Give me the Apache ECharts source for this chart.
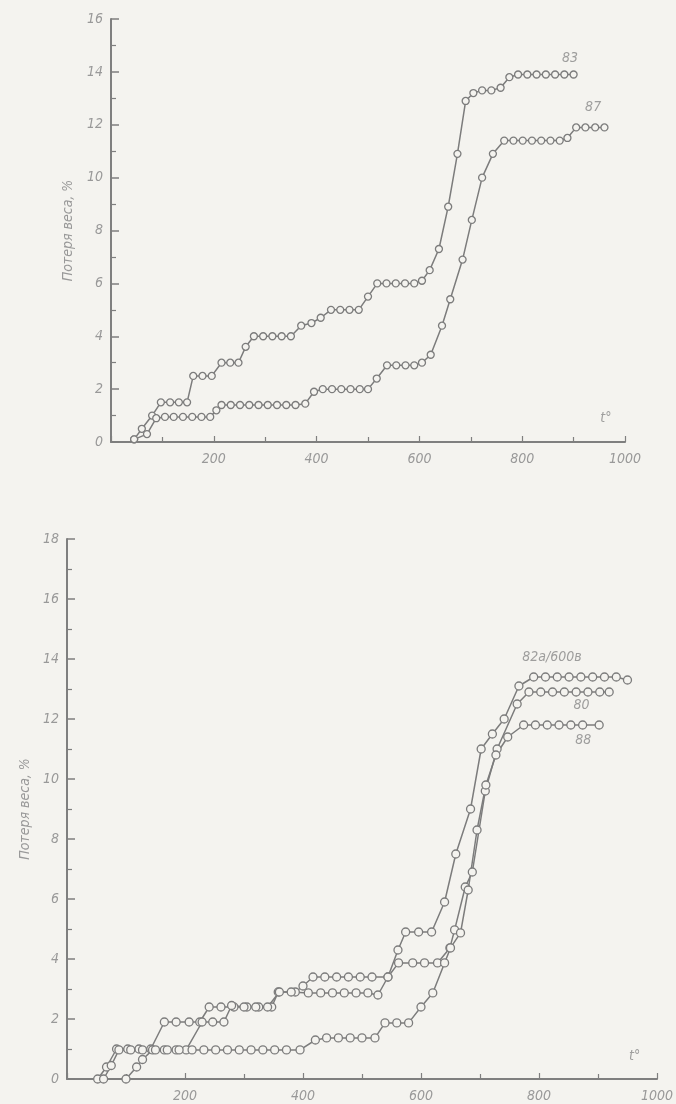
<!DOCTYPE html>
<html>
<head>
<meta charset="utf-8">
<script src="https://cdn.jsdelivr.net/npm/echarts@6/dist/echarts.min.js"></script>
<style>
html,body{margin:0;padding:0;background:#f4f3ef;}
#c{width:676px;height:1104px;}
</style>
</head>
<body>
<div id="c"></div>
<script>
// ---- Data (x = t°, y = weight loss %) ----
const yName = 'Потеря веса, %';
const xTickLabelsTop = ['200','400','600','800','1000'];
const series83 = [[45,0.1],[60,0.5],[80,1.0],[97,1.5],[115,1.5],[132,1.5],[148,1.5],[160,2.5],[178,2.5],[196,2.5],[215,3.0],[232,3.0],[248,3.0],[262,3.6],[278,4.0],[296,4.0],[314,4.0],[332,4.0],[350,4.0],[370,4.4],[390,4.5],[408,4.7],[428,5.0],[446,5.0],[464,5.0],[482,5.0],[500,5.5],[518,6.0],[536,6.0],[554,6.0],[572,6.0],[590,6.0],[605,6.1],[620,6.5],[638,7.3],[656,8.9],[674,10.9],[690,12.9],[705,13.2],[722,13.3],[740,13.3],[758,13.4],[775,13.8],[792,13.9],[810,13.9],[828,13.9],[846,13.9],[864,13.9],[882,13.9],[900,13.9]];
const series87 = [[45,0.1],[70,0.3],[88,0.9],[105,0.95],[122,0.95],[140,0.95],[158,0.95],[176,0.95],[193,0.95],[205,1.2],[215,1.4],[233,1.4],[251,1.4],[269,1.4],[287,1.4],[305,1.4],[323,1.4],[341,1.4],[359,1.4],[378,1.45],[395,1.9],[412,2.0],[430,2.0],[448,2.0],[466,2.0],[484,2.0],[500,2.0],[517,2.4],[537,2.9],[555,2.9],[573,2.9],[590,2.9],[605,3.0],[622,3.3],[644,4.4],[660,5.4],[684,6.9],[702,8.4],[722,10.0],[743,10.9],[765,11.4],[783,11.4],[801,11.4],[819,11.4],[837,11.4],[855,11.4],[873,11.4],[888,11.5],[905,11.9],[923,11.9],[942,11.9],[960,11.9]];

const series82a = [[52,0],[67,0.4],[84,1.0],[103,1.0],[122,1.0],[142,1.0],[165,1.9],[185,1.9],[207,1.9],[225,1.9],[241,2.4],[261,2.4],[283,2.4],[305,2.4],[325,2.4],[347,2.4],[358,2.9],[387,2.9],[400,3.1],[417,3.4],[437,3.4],[457,3.4],[477,3.4],[497,3.4],[517,3.4],[544,3.4],[561,4.3],[574,4.9],[596,4.9],[618,4.9],[640,5.9],[659,7.5],[684,9.0],[702,11.0],[721,11.5],[741,12.0],[766,13.1],[791,13.4],[811,13.4],[831,13.4],[851,13.4],[871,13.4],[891,13.4],[911,13.4],[931,13.4],[950,13.3]];
const series80 = [[100,0],[118,0.4],[128,0.65],[145,0.97],[165,0.97],[185,0.97],[202,0.97],[229,1.9],[247,1.9],[266,1.9],[279,2.45],[300,2.4],[320,2.4],[340,2.4],[360,2.9],[380,2.9],[409,2.87],[430,2.87],[450,2.87],[470,2.87],[490,2.87],[510,2.87],[527,2.8],[544,3.4],[562,3.87],[586,3.87],[606,3.87],[628,3.87],[649,4.37],[657,4.97],[675,6.4],[687,6.9],[709,9.6],[729,11.0],[763,12.5],[783,12.9],[803,12.9],[823,12.9],[843,12.9],[863,12.9],[883,12.9],[903,12.9],[919,12.9]];
const series88 = [[62,0],[75,0.45],[88,0.97],[108,0.97],[128,0.97],[150,0.97],[170,0.97],[190,0.97],[212,0.97],[232,0.97],[252,0.97],[272,0.97],[292,0.97],[312,0.97],[332,0.97],[352,0.97],[372,0.97],[395,0.97],[421,1.3],[440,1.37],[460,1.37],[480,1.37],[500,1.37],[522,1.37],[539,1.87],[559,1.87],[579,1.87],[600,2.4],[620,2.87],[640,3.87],[650,4.37],[667,4.87],[680,6.3],[695,8.3],[710,9.8],[727,10.8],[747,11.4],[774,11.8],[794,11.8],[814,11.8],[834,11.8],[854,11.8],[874,11.8],[902,11.8]];

// annotation anchors in data units: [x, y, text]
const notesTop = [[893,14.5,'83'],[938,12.65,'87'],[963,0.9,'t°']];
const notesBottom = [[822,14.05,'82а/600в'],[872,12.45,'80'],[875,11.3,'88'],[962,0.75,'t°']];

// ---- Styling ----
const FONT = "'DejaVu Sans Condensed','Liberation Sans Narrow','DejaVu Sans',sans-serif";
const AX = '#7f7f7f';
const TXT = '#999999';
const LINE = '#7c7c7c';

function yAxis(gi, max, gap) {
  return {
    type:'value', gridIndex:gi, min:0, max:max, interval:2,
    name:yName, nameLocation:'middle', nameGap:gap, nameRotate:90,
    nameTextStyle:{color:TXT, fontFamily:FONT, fontStyle:'italic', fontSize:14},
    axisLine:{show:true, lineStyle:{color:AX, width:2}},
    axisTick:{show:true, inside:true, length:8, lineStyle:{color:AX, width:1.5}},
    minorTick:{show:true, splitNumber:2, length:5, lineStyle:{color:AX, width:1.2}},
    axisLabel:{color:TXT, fontFamily:FONT, fontStyle:'italic', fontSize:14, margin:8},
    splitLine:{show:false}
  };
}
function xAxis(gi) {
  return {
    type:'value', gridIndex:gi, min:0, max:1000, interval:200,
    axisLine:{show:true, onZero:false, lineStyle:{color:AX, width:2}},
    axisTick:{show:true, inside:true, length:6, lineStyle:{color:AX, width:1.2}},
    minorTick:{show:true, splitNumber:2, length:5, lineStyle:{color:AX, width:1.2}},
    axisLabel:{color:TXT, fontFamily:FONT, fontStyle:'italic', fontSize:14, margin:10,
      formatter:function(v){ const s=String(v); return xTickLabelsTop.indexOf(s)>=0 ? s : ''; }},
    splitLine:{show:false}
  };
}
function lineSeries(data, gi, size) {
  return {
    type:'line', xAxisIndex:gi, yAxisIndex:gi, data:data,
    symbol:'circle', symbolSize:size, showAllSymbol:true,
    lineStyle:{color:LINE, width:1.5},
    itemStyle:{color:'#f4f3ef', borderColor:LINE, borderWidth:1.3},
    z:3, animation:false
  };
}
function notes(list, gi) {
  return {
    type:'scatter', xAxisIndex:gi, yAxisIndex:gi, symbolSize:0, silent:true, animation:false,
    data:list.map(n=>({value:[n[0],n[1]], name:n[2]})),
    label:{show:true, position:'inside', formatter:p=>p.name, color:'#888888',
      fontFamily:FONT, fontStyle:'italic', fontSize:14}
  };
}

const chart = echarts.init(document.getElementById('c'), null, {renderer:'canvas'});
chart.setOption({
  backgroundColor:'#f4f3ef',
  animation:false,
  grid:[
    {left:111, right:51, top:19, bottom:662},
    {left:67, right:16, top:539, bottom:25}
  ],
  xAxis:[xAxis(0), xAxis(1)],
  yAxis:[yAxis(0,16,36), yAxis(1,18,32)],
  series:[
    lineSeries(series83,0,7),
    lineSeries(series87,0,7),
    lineSeries(series82a,1,8),
    lineSeries(series80,1,8),
    lineSeries(series88,1,8),
    notes(notesTop,0),
    notes(notesBottom,1)
  ]
});
</script>
</body>
</html>
